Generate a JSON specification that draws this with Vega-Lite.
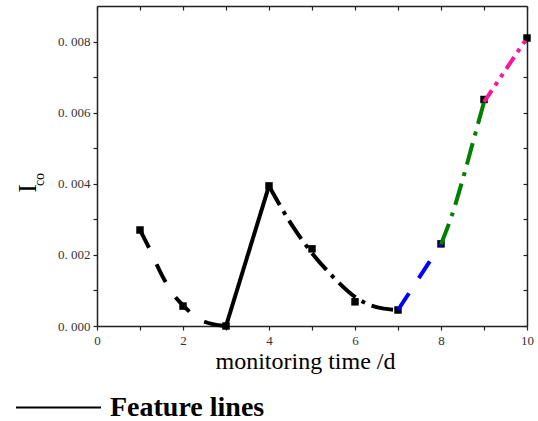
{
  "$schema": "https://vega.github.io/schema/vega-lite/v6.json",
  "width": 430,
  "height": 320,
  "autosize": {"type": "none"},
  "padding": {"left": 97, "top": 6, "right": 11, "bottom": 95},
  "background": "white",
  "config": {"view": {"stroke": null}, "font": "Liberation Serif"},
  "datasets": {
    "pts": [
      {"t": 1, "ico": 0.0027}, {"t": 2, "ico": 0.00056}, {"t": 3, "ico": 0.0},
      {"t": 4, "ico": 0.00394}, {"t": 5, "ico": 0.00217}, {"t": 6, "ico": 0.00068},
      {"t": 7, "ico": 0.00045}, {"t": 8, "ico": 0.00231}, {"t": 9, "ico": 0.00637},
      {"t": 10, "ico": 0.0081}
    ],
    "curves": [
      {"seg": "a", "t": 1, "ico": 0.0027}, {"seg": "a", "t": 1.25, "ico": 0.0021},
      {"seg": "a", "t": 1.5, "ico": 0.00145}, {"seg": "a", "t": 1.75, "ico": 0.00093},
      {"seg": "a", "t": 2, "ico": 0.00058}, {"seg": "a", "t": 2.5, "ico": 0.00012},
      {"seg": "a", "t": 3, "ico": 0.0},
      {"seg": "b", "t": 3, "ico": 0.0}, {"seg": "b", "t": 4, "ico": 0.00394},
      {"seg": "c", "t": 4, "ico": 0.00394}, {"seg": "c", "t": 4.5, "ico": 0.0029},
      {"seg": "c", "t": 5, "ico": 0.00205}, {"seg": "c", "t": 5.5, "ico": 0.00137},
      {"seg": "c", "t": 6, "ico": 0.00082}, {"seg": "c", "t": 6.5, "ico": 0.00053},
      {"seg": "c", "t": 7, "ico": 0.00045},
      {"seg": "d", "t": 7, "ico": 0.00045}, {"seg": "d", "t": 8, "ico": 0.0023},
      {"seg": "e", "t": 8, "ico": 0.0023}, {"seg": "e", "t": 8.25, "ico": 0.0031},
      {"seg": "e", "t": 8.5, "ico": 0.0041}, {"seg": "e", "t": 8.75, "ico": 0.0052},
      {"seg": "e", "t": 9, "ico": 0.0063},
      {"seg": "f", "t": 9, "ico": 0.0063}, {"seg": "f", "t": 10, "ico": 0.0081}
    ]
  },
  "layer": [
    {
      "data": {"name": "pts"},
      "mark": {"type": "square", "size": 56, "color": "black", "opacity": 1},
      "encoding": {
        "x": {"field": "t", "type": "quantitative", "scale": {"domain": [0, 10], "nice": false},
          "axis": {"orient": "bottom", "values": [0,1,2,3,4,5,6,7,8,9,10],
            "labelExpr": "datum.value % 2 == 0 ? datum.label : ''",
            "title": "monitoring time /d", "titleFont": "Liberation Serif", "titleFontSize": 24,
            "titleFontWeight": "normal", "titleColor": "black", "titleX": 208, "titleY": 42,
            "titleAlign": "center", "titleBaseline": "alphabetic",
            "labelFont": "Liberation Serif", "labelFontSize": 13, "labelColor": "#333",
            "labelPadding": 4, "labelFlush": false, "tickSize": 4, "tickColor": "#222", "tickWidth": 1.2,
            "domainColor": "#222", "domainWidth": 1.5, "grid": false}},
        "y": {"field": "ico", "type": "quantitative", "scale": {"domain": [0, 0.009], "nice": false},
          "axis": {"orient": "left", "values": [0,0.001,0.002,0.003,0.004,0.005,0.006,0.007,0.008],
            "labelExpr": "round(datum.value*1000) % 2 == 0 ? replace(format(datum.value, '.3f'), '.', '. ') : ''",
            "title": "I", "titleFont": "Liberation Serif", "titleFontSize": 26, "titleFontWeight": "normal",
            "titleColor": "black", "titleAngle": 270, "titleX": -62, "titleY": 182,
            "titleAlign": "center", "titleBaseline": "alphabetic",
            "labelFont": "Liberation Serif", "labelFontSize": 13, "labelColor": "#333",
            "labelPadding": 3, "labelFlush": false, "tickSize": 4, "tickColor": "#222", "tickWidth": 1.2,
            "domainColor": "#222", "domainWidth": 1.5, "grid": false}}
      }
    },
    {
      "data": {"name": "curves"},
      "transform": [{"filter": "datum.seg == 'a'"}],
      "mark": {"type": "line", "interpolate": "monotone", "color": "black", "strokeWidth": 4, "strokeDash": [20, 18]},
      "encoding": {
        "x": {"field": "t", "type": "quantitative", "scale": {"domain": [0, 10], "nice": false}, "axis": null},
        "y": {"field": "ico", "type": "quantitative", "scale": {"domain": [0, 0.009], "nice": false},
          "axis": {"orient": "left", "labels": false, "ticks": false, "domain": false, "grid": false,
            "title": "co", "titleFont": "Liberation Serif", "titleFontSize": 14, "titleFontWeight": "normal",
            "titleColor": "black", "titleAngle": 270, "titleX": -54, "titleY": 173,
            "titleAlign": "center", "titleBaseline": "alphabetic"}}
      }
    },
    {
      "data": {"name": "curves"},
      "transform": [{"filter": "datum.seg == 'b'"}],
      "mark": {"type": "line", "strokeWidth": 4},
      "encoding": {
        "x": {"field": "t", "type": "quantitative", "scale": {"domain": [0, 10], "nice": false}, "axis": null},
        "y": {"field": "ico", "type": "quantitative", "scale": {"domain": [0, 0.009], "nice": false}, "axis": null},
        "color": {"datum": "Feature lines", "scale": {"range": ["black"]},
          "legend": {"orient": "none", "legendX": -82, "legendY": 358, "title": null, "padding": 0,
            "symbolType": "stroke", "symbolSize": 7225, "symbolStrokeWidth": 2,
            "labelFont": "Liberation Serif", "labelFontSize": 28, "labelFontWeight": "bold",
            "labelColor": "black", "labelOffset": 8}}
      }
    },
    {
      "data": {"name": "curves"},
      "transform": [{"filter": "datum.seg == 'c'"}],
      "mark": {"type": "line", "interpolate": "monotone", "color": "black", "strokeWidth": 4, "strokeDash": [22, 7, 4, 7]},
      "encoding": {
        "x": {"field": "t", "type": "quantitative", "scale": {"domain": [0, 10], "nice": false}, "axis": null},
        "y": {"field": "ico", "type": "quantitative", "scale": {"domain": [0, 0.009], "nice": false}, "axis": null}
      }
    },
    {
      "data": {"name": "curves"},
      "transform": [{"filter": "datum.seg == 'd'"}],
      "mark": {"type": "line", "color": "#0000ff", "strokeWidth": 4, "strokeDash": [20, 18]},
      "encoding": {
        "x": {"field": "t", "type": "quantitative", "scale": {"domain": [0, 10], "nice": false}, "axis": null},
        "y": {"field": "ico", "type": "quantitative", "scale": {"domain": [0, 0.009], "nice": false}, "axis": null}
      }
    },
    {
      "data": {"name": "curves"},
      "transform": [{"filter": "datum.seg == 'e'"}],
      "mark": {"type": "line", "interpolate": "monotone", "color": "#008000", "strokeWidth": 4, "strokeDash": [22, 8, 4, 8]},
      "encoding": {
        "x": {"field": "t", "type": "quantitative", "scale": {"domain": [0, 10], "nice": false}, "axis": null},
        "y": {"field": "ico", "type": "quantitative", "scale": {"domain": [0, 0.009], "nice": false}, "axis": null}
      }
    },
    {
      "data": {"name": "curves"},
      "transform": [{"filter": "datum.seg == 'f'"}],
      "mark": {"type": "line", "color": "#ff1493", "strokeWidth": 4, "strokeDash": [14, 6, 4, 6, 4, 6]},
      "encoding": {
        "x": {"field": "t", "type": "quantitative", "scale": {"domain": [0, 10], "nice": false},
          "axis": {"orient": "top", "values": [0,1,2,3,4,5,6,7,8,9,10], "labels": false, "title": null,
            "tickSize": -4, "tickColor": "#222", "tickWidth": 1.2, "domainColor": "#222", "domainWidth": 1.5, "grid": false}},
        "y": {"field": "ico", "type": "quantitative", "scale": {"domain": [0, 0.009], "nice": false},
          "axis": {"orient": "right", "values": [0,0.001,0.002,0.003,0.004,0.005,0.006,0.007,0.008], "labels": false, "title": null,
            "tickSize": -4, "tickColor": "#222", "tickWidth": 1.2, "domainColor": "#222", "domainWidth": 1.5, "grid": false}}
      }
    }
  ],
  "resolve": {"axis": {"x": "independent", "y": "independent"}}
}
